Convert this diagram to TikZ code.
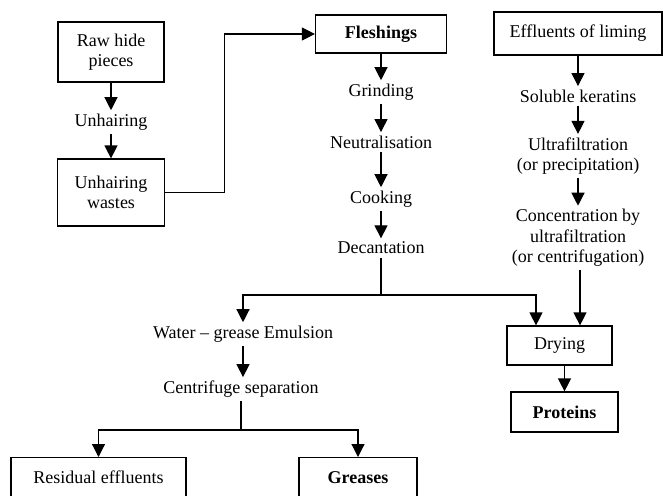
\documentclass[tikz,border=0pt]{standalone}
\usepackage{fontspec}
\setmainfont{Liberation Serif}
\usetikzlibrary{arrows.meta}

\begin{document}
\begin{tikzpicture}[x=1pt,y=-1pt,line width=1.2pt,
    font=\fontsize{18}{20.5}\selectfont,
    box/.style={draw,align=center,inner sep=0pt},
    lbl/.style={align=center,inner sep=3pt},
    arr/.style={-{Triangle[width=13pt,length=13pt]}}]
    \useasboundingbox (0,0) rectangle (663,495);
    \clip (0,0) rectangle (663,495);

    % hides
    \node[box,minimum width=106pt,minimum height=60pt] (raw) at (111,52) {Raw hide\\pieces};
    \node[lbl] (unhair) at (111,122) {Unhairing};
    \node[box,minimum width=107pt,minimum height=67pt] (wastes) at (111,192.5) {Unhairing\\wastes};

    % fleshings
    \node[box,minimum width=131pt,minimum height=38pt] (flesh) at (381,34) {\textbf{Fleshings}};
    \node[lbl] (grind) at (381,92) {Grinding};
    \node[lbl] (neutral) at (381,142) {Neutralisation};
    \node[lbl] (cook) at (381,199) {Cooking};
    \node[lbl] (decant) at (381,248) {Decantation};

    % liming
    \node[box,minimum width=168pt,minimum height=43pt] (liming) at (578,33.5) {Effluents of liming};
    \node[lbl] (keratin) at (578,96) {Soluble keratins};
    \node[lbl] (ultra) at (578,156) {Ultrafiltration\\(or precipitation)};
    \node[lbl] (conc) at (578,238) {Concentration by\\ultrafiltration\\(or centrifugation)};
    \node[box,minimum width=105pt,minimum height=39pt] (dry) at (559.5,345.5) {Drying};
    \node[box,minimum width=107pt,minimum height=40pt] (prot) at (564.5,412) {\textbf{Proteins}};

    % grease
    \node[lbl] (emul) at (243,334) {Water – grease Emulsion};
    \node[lbl] (centri) at (241,389) {Centrifuge separation};
    \node[box,minimum width=175pt,minimum height=40pt,anchor=north] (resid) at (98.5,457) {Residual effluents};
    \node[box,minimum width=118pt,minimum height=40pt,anchor=north] (grease) at (358,457) {\textbf{Greases}};

    \coordinate (dj) at (381,295);
    \coordinate (cj) at (241,430);
    \coordinate (dryL) at ([xshift=-23.5pt]dry.north);
    \coordinate (dryR) at ([xshift=20.5pt]dry.north);

    \draw[arr] (raw) -- (unhair);
    \draw[arr] (unhair) -- (wastes);
    \draw[arr] (wastes.east) -- ++(59,0) |- (flesh.west);

    \draw[arr] (flesh) -- (grind);
    \draw[arr] (grind) -- (neutral);
    \draw[arr] (neutral) -- (cook);
    \draw[arr] (cook) -- (decant);
    \draw (decant) -- (dj);
    \draw[arr] (dj) -| (emul.north);
    \draw[arr] (dj) -| (dryL);

    \draw[arr] (liming) -- (keratin);
    \draw[arr] (keratin) -- (ultra);
    \draw[arr] (ultra) -- (conc);
    \draw[arr] (conc.south -| dryR) -- (dryR);
    \draw[arr] (dry.south -| prot.north) -- (prot.north);

    \draw[arr] (emul) -- (emul.south |- centri.north);
    \draw (centri) -- (cj);
    \draw[arr] (cj) -| (resid.north);
    \draw[arr] (cj) -| (grease.north);
\end{tikzpicture}
\end{document}
